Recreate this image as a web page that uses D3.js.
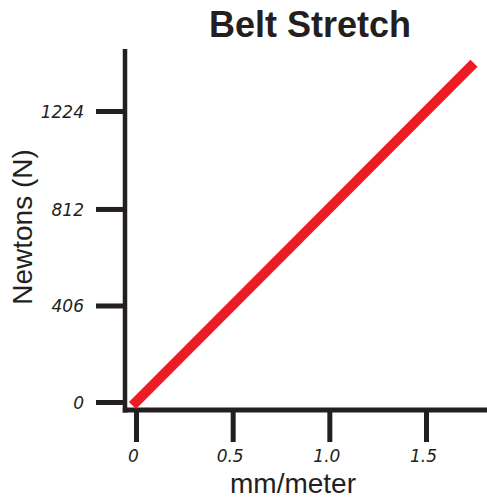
<html>
<head>
<script src="https://d3js.org/d3.v7.min.js"></script>
<style>
  body { margin: 0; background: #fff; }
  svg text { fill: #231f20; }
  .tick text { font: italic 17px "DejaVu Sans", sans-serif; }
</style>
</head>
<body>
<script>
// values
var xTicks = [0, 0.5, 1.0, 1.5];
var xTickLabels = ["0", "0.5", "1.0", "1.5"];
var yTicks = [0, 406, 812, 1224];
var stretch = [0, 1.73];      // mm/meter
var force = [0, 1410];        // Newtons

var width = 487, height = 499;
var ink = "#231f20", red = "#ed1c24";

var svg = d3.select("body").append("svg")
  .attr("width", width)
  .attr("height", height);

var x = d3.scaleLinear().domain([0, 1.5]).range([136, 426]);
var y = d3.scaleLinear().domain([0, 1224]).range([402, 111]);

// axis lines run past the tick range
var axisX = 125, axisY = 410;
svg.append("line")
  .attr("x1", axisX).attr("x2", axisX)
  .attr("y1", 49).attr("y2", axisY + 2.5)
  .attr("stroke", ink).attr("stroke-width", 4.5);
svg.append("line")
  .attr("x1", axisX - 2.25).attr("x2", width)
  .attr("y1", axisY).attr("y2", axisY)
  .attr("stroke", ink).attr("stroke-width", 5);

var yAxis = svg.append("g")
  .attr("transform", "translate(" + axisX + ",0)")
  .call(d3.axisLeft(y).tickValues(yTicks).tickSize(29).tickFormat(d3.format("d")));
yAxis.select(".domain").remove();
yAxis.selectAll(".tick line").attr("stroke", ink).attr("stroke-width", 5);
yAxis.selectAll(".tick text").attr("x", -41).attr("dy", "0.36em");

var xAxis = svg.append("g")
  .attr("transform", "translate(0," + axisY + ")")
  .call(d3.axisBottom(x).tickValues(xTicks).tickSize(32)
    .tickFormat(function(d, i) { return xTickLabels[i]; }));
xAxis.select(".domain").remove();
xAxis.selectAll(".tick line").attr("stroke", ink).attr("stroke-width", 5);
xAxis.selectAll(".tick text").attr("y", 40).attr("dy", "0.71em").attr("dx", -3);

var line = d3.line()
  .x(function(d) { return x(d); })
  .y(function(d, i) { return y(force[i]); });

svg.append("path")
  .datum(stretch)
  .attr("d", line)
  .attr("fill", "none")
  .attr("stroke", red)
  .attr("stroke-width", 10)
  .attr("stroke-linecap", "square");

svg.append("text")
  .attr("x", 310).attr("y", 37)
  .attr("text-anchor", "middle")
  .style("font", "bold 36px 'Liberation Sans', Arial, sans-serif")
  .text("Belt Stretch");

svg.append("text")
  .attr("x", 293).attr("y", 492.5)
  .attr("text-anchor", "middle")
  .style("font", "28px 'Liberation Sans', Arial, sans-serif")
  .text("mm/meter");

svg.append("text")
  .attr("transform", "translate(32,227) rotate(-90)")
  .attr("text-anchor", "middle")
  .style("font", "28px 'Liberation Sans', Arial, sans-serif")
  .text("Newtons (N)");
</script>
</body>
</html>
